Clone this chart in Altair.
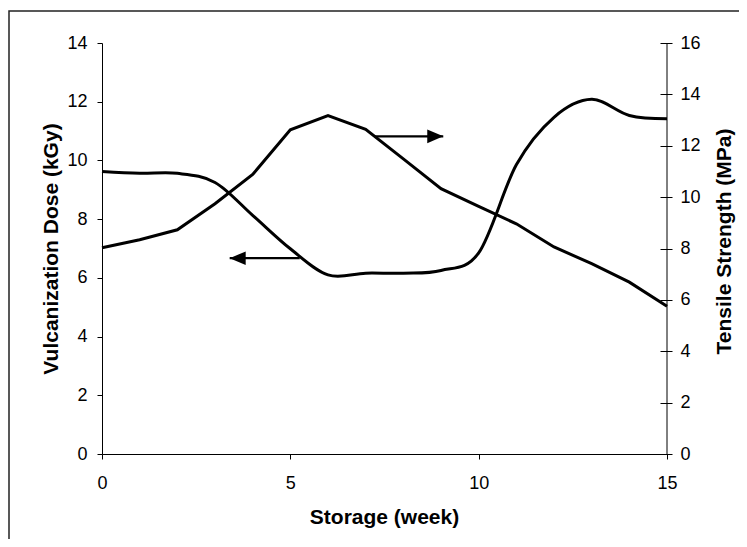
import altair as alt
import pandas as pd

# ---- data ----
weeks = list(range(16))
dose_kgy = [9.62, 9.56, 9.56, 9.25, 8.13, 6.99, 6.10, 6.16, 6.16, 6.25, 6.85,
            9.85, 11.47, 12.08, 11.53, 11.42]
tensile_mpa = [8.03, 8.34, 8.73, 9.74, 10.88, 12.62, 13.17, 12.64, 11.49, 10.33,
               9.64, 8.96, 8.06, 7.41, 6.69, 5.75]

# annotation arrows (in week / kGy units)
arrow_start = [5.25, 7.24]
arrow_tip = [3.39, 9.06]
arrow_level = [6.67, 10.82]
arrow_dir = ["left", "right"]

x_ticks = [0, 5, 10, 15]
left_ticks = [0, 2, 4, 6, 8, 10, 12, 14]
right_ticks = [0, 2, 4, 6, 8, 10, 12, 14, 16]

FONT = "Liberation Sans"
W, H = 565, 411

df = pd.DataFrame({"week": weeks, "dose": dose_kgy, "tensile": tensile_mpa})
arrows = pd.DataFrame({"x0": arrow_start, "x1": arrow_tip, "y": arrow_level,
                       "dir": arrow_dir})

xenc = alt.X("week:Q", scale=alt.Scale(domain=[0, 15], nice=False),
             axis=alt.Axis(values=x_ticks, title="Storage (week)", tickSize=5,
                           labelPadding=15, titleX=282, titleY=69,
                           titleBaseline="alphabetic"))

dose_line = alt.Chart(df).mark_line(
    color="black", strokeWidth=3, interpolate="cardinal", tension=0
).encode(
    x=xenc,
    y=alt.Y("dose:Q", scale=alt.Scale(domain=[0, 14], nice=False),
            axis=alt.Axis(values=left_ticks, orient="left",
                          title="Vulcanization Dose (kGy)", tickSize=5,
                          labelPadding=10, titleAngle=270, titleX=-45,
                          titleY=H / 2, titleBaseline="alphabetic")),
)

tensile_line = alt.Chart(df).mark_line(color="black", strokeWidth=3).encode(
    x=alt.X("week:Q"),
    y=alt.Y("tensile:Q", scale=alt.Scale(domain=[0, 16], nice=False),
            axis=alt.Axis(values=right_ticks, orient="right",
                          title="Tensile Strength (MPa)", tickSize=12, offset=-7,
                          domain=False, labelPadding=8, titleAngle=270,
                          titleX=70, titleY=198, titleBaseline="alphabetic")),
)

right_domain = alt.Chart(alt.Data(values=[{}])).mark_rule(
    color="black", strokeWidth=1
).encode(x=alt.datum(15))

arrow_lines = alt.Chart(arrows).mark_rule(color="black", strokeWidth=2.3).encode(
    x="x0:Q", x2="x1:Q",
    y=alt.Y("y:Q", scale=alt.Scale(domain=[0, 14], nice=False), axis=None),
)

head_left = alt.Chart(arrows).transform_filter(alt.datum.dir == "left").mark_point(
    shape="M-1,0L1,-0.85L1,0.85Z", size=256, filled=True, color="black",
    opacity=1, xOffset=8
).encode(
    x="x1:Q",
    y=alt.Y("y:Q", scale=alt.Scale(domain=[0, 14], nice=False), axis=None),
)

head_right = alt.Chart(arrows).transform_filter(alt.datum.dir == "right").mark_point(
    shape="M1,0L-1,-0.85L-1,0.85Z", size=256, filled=True, color="black",
    opacity=1, xOffset=-8
).encode(
    x="x1:Q",
    y=alt.Y("y:Q", scale=alt.Scale(domain=[0, 14], nice=False), axis=None),
)

frame = alt.Chart(alt.Data(values=[{}])).mark_rect(
    fill="transparent", stroke="#222", strokeWidth=1.5
).encode(x=alt.value(-93), x2=alt.value(638), y=alt.value(-32),
         y2=alt.value(540))

chart = alt.layer(
    frame, dose_line, tensile_line, right_domain, arrow_lines, head_left, head_right
).resolve_scale(y="independent").properties(
    width=W, height=H,
    autosize=alt.AutoSizeParams(type="none"),
    padding={"left": 94, "top": 35, "right": 72, "bottom": 85},
    background="white",
).configure_view(stroke="transparent").configure_axis(
    grid=False, domainColor="black", tickColor="black", labelColor="black",
    titleColor="black", labelFont=FONT, titleFont=FONT, labelFontSize=18,
    titleFontSize=21, titleFontWeight="bold", domainWidth=1, tickWidth=1,
    labelFlush=False,
)

chart.save("out.html", embed_options={"renderer": "svg", "actions": False})
